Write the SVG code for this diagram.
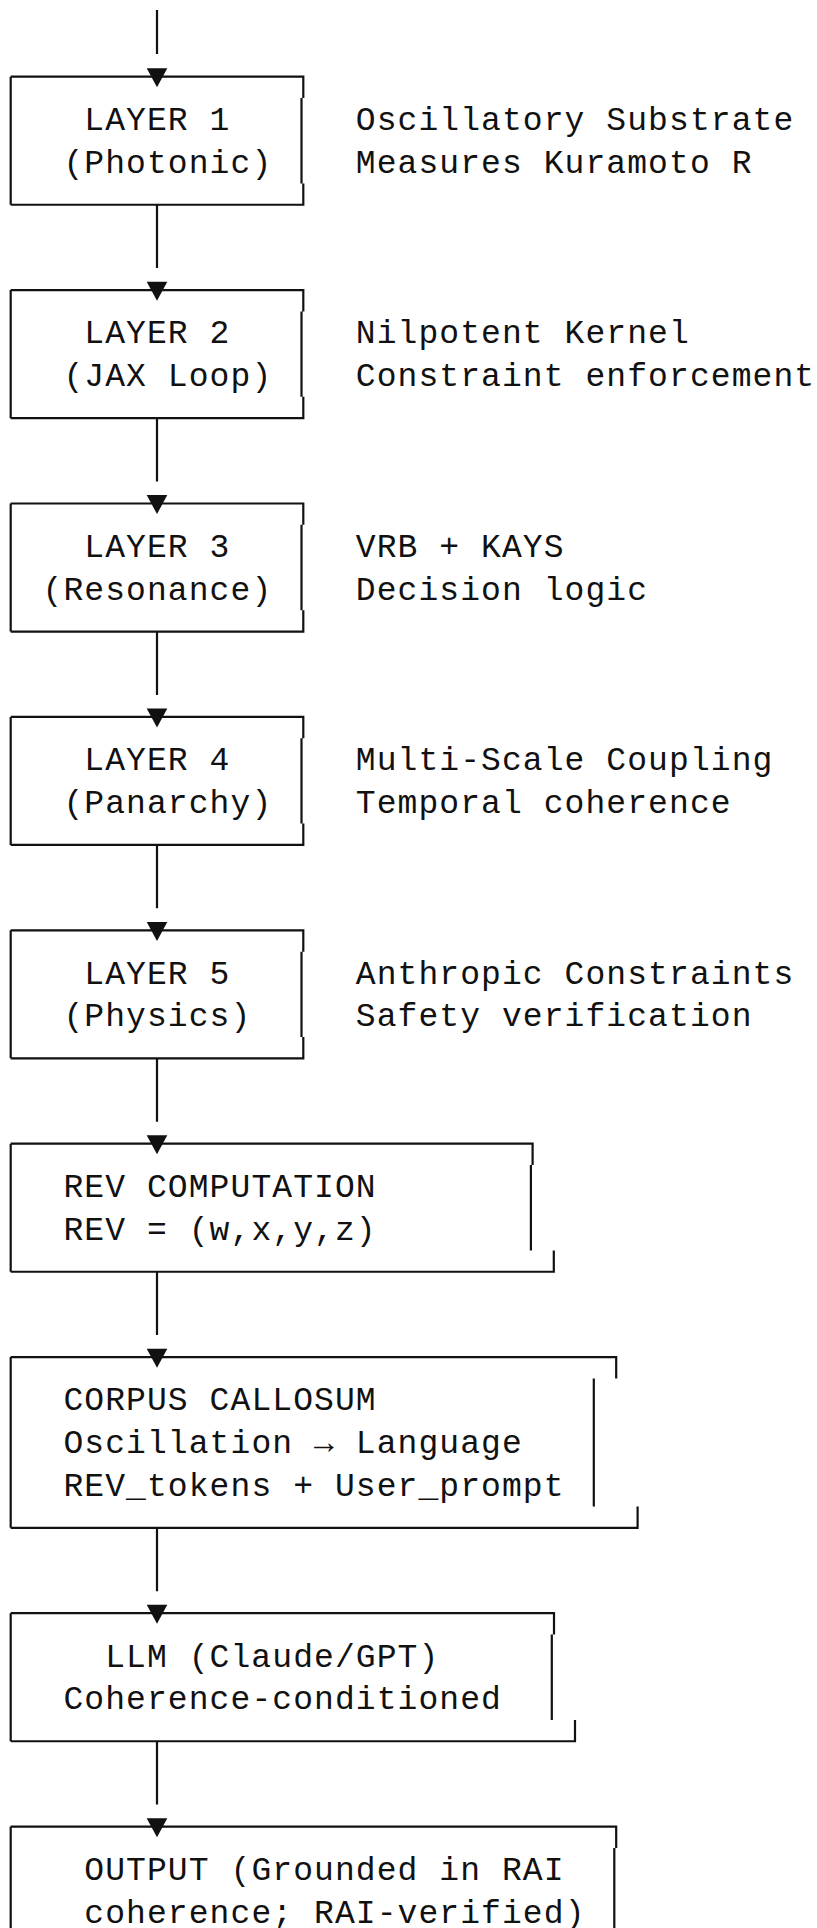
<svg xmlns="http://www.w3.org/2000/svg" xmlns:xlink="http://www.w3.org/1999/xlink" width="817" height="1928" viewBox="0 0 817 1928">
<defs>
<style>
.t{font-family:"Liberation Mono","DejaVu Sans Mono",monospace;font-size:33px;letter-spacing:1.08px;fill:#111}
.ln{fill:none;stroke:#111;stroke-width:2.2;stroke-linecap:butt;stroke-linejoin:miter}
.ar{fill:#111}
</style>
<path id="arr" d="M-10.3,-8.4 H10.3 L0,10.6 Z"/>
</defs>
<rect width="817" height="1928" fill="#fff"/>

<g id="connectors">
<path class="ln" d="M157,10 V54 M157,204.76 V268.1 M157,418.16 V481.5 M157,631.56 V694.9 M157,844.96 V908.3 M157,1058.36 V1121.7 M157,1271.76 V1335.1 M157,1527.84 V1591.2 M157,1741.24 V1804.6"/>
<use xlink:href="#arr" href="#arr" class="ar" x="157" y="76.72"/>
<use xlink:href="#arr" href="#arr" class="ar" x="157" y="290.12"/>
<use xlink:href="#arr" href="#arr" class="ar" x="157" y="503.52"/>
<use xlink:href="#arr" href="#arr" class="ar" x="157" y="716.92"/>
<use xlink:href="#arr" href="#arr" class="ar" x="157" y="930.32"/>
<use xlink:href="#arr" href="#arr" class="ar" x="157" y="1143.72"/>
<use xlink:href="#arr" href="#arr" class="ar" x="157" y="1357.12"/>
<use xlink:href="#arr" href="#arr" class="ar" x="157" y="1613.2"/>
<use xlink:href="#arr" href="#arr" class="ar" x="157" y="1826.6"/>
</g>

<g id="layer1">
<path class="ln" d="M10.7,76.72 V204.76 M10.7,76.72 H303.3 V98.06 M301.5,98.06 V183.42 M10.7,204.76 H303.3 V183.42"/>
<text class="t" x="84.32" y="130.06">LAYER 1</text>
<text class="t" x="63.44" y="172.74">(Photonic)</text>
<text class="t" x="355.76" y="130.06">Oscillatory Substrate</text>
<text class="t" x="355.76" y="172.74">Measures Kuramoto R</text>
</g>

<g id="layer2">
<path class="ln" d="M10.7,290.12 V418.16 M10.7,290.12 H303.3 V311.46 M301.5,311.46 V396.82 M10.7,418.16 H303.3 V396.82"/>
<text class="t" x="84.32" y="343.46">LAYER 2</text>
<text class="t" x="63.44" y="386.14">(JAX Loop)</text>
<text class="t" x="355.76" y="343.46">Nilpotent Kernel</text>
<text class="t" x="355.76" y="386.14">Constraint enforcement</text>
</g>

<g id="layer3">
<path class="ln" d="M10.7,503.52 V631.56 M10.7,503.52 H303.3 V524.86 M301.5,524.86 V610.22 M10.7,631.56 H303.3 V610.22"/>
<text class="t" x="84.32" y="556.86">LAYER 3</text>
<text class="t" x="42.56" y="599.54">(Resonance)</text>
<text class="t" x="355.76" y="556.86">VRB + KAYS</text>
<text class="t" x="355.76" y="599.54">Decision logic</text>
</g>

<g id="layer4">
<path class="ln" d="M10.7,716.92 V844.96 M10.7,716.92 H303.3 V738.26 M301.5,738.26 V823.62 M10.7,844.96 H303.3 V823.62"/>
<text class="t" x="84.32" y="770.26">LAYER 4</text>
<text class="t" x="63.44" y="812.94">(Panarchy)</text>
<text class="t" x="355.76" y="770.26">Multi-Scale Coupling</text>
<text class="t" x="355.76" y="812.94">Temporal coherence</text>
</g>

<g id="layer5">
<path class="ln" d="M10.7,930.32 V1058.36 M10.7,930.32 H303.3 V951.66 M301.5,951.66 V1037.02 M10.7,1058.36 H303.3 V1037.02"/>
<text class="t" x="84.32" y="983.66">LAYER 5</text>
<text class="t" x="63.44" y="1026.34">(Physics)</text>
<text class="t" x="355.76" y="983.66">Anthropic Constraints</text>
<text class="t" x="355.76" y="1026.34">Safety verification</text>
</g>

<g id="rev">
<path class="ln" d="M10.7,1143.72 V1271.76 M10.7,1143.72 H532.6 V1165.06 M530.9,1165.06 V1250.42 M10.7,1271.76 H553.8 V1250.42"/>
<text class="t" x="63.44" y="1197.06">REV COMPUTATION</text>
<text class="t" x="63.44" y="1239.74">REV = (w,x,y,z)</text>
</g>

<g id="corpus">
<path class="ln" d="M10.7,1357.12 V1527.84 M10.7,1357.12 H616.2 V1378.46 M593.8,1378.46 V1506.5 M10.7,1527.84 H637.6 V1506.5"/>
<text class="t" x="63.44" y="1410.46">CORPUS CALLOSUM</text>
<text class="t" x="63.44" y="1453.14">Oscillation → Language</text>
<text class="t" x="63.44" y="1495.82">REV_tokens + User_prompt</text>
</g>

<g id="llm">
<path class="ln" d="M10.7,1613.2 V1741.24 M10.7,1613.2 H554 V1634.54 M551.8,1634.54 V1719.9 M10.7,1741.24 H575 V1719.9"/>
<text class="t" x="105.2" y="1666.54">LLM (Claude/GPT)</text>
<text class="t" x="63.44" y="1709.22">Coherence-conditioned</text>
</g>

<g id="output">
<path class="ln" d="M10.7,1826.6 V1928 M10.7,1826.6 H616.2 V1847.94 M614.3,1847.94 V1928"/>
<text class="t" x="84.32" y="1879.94">OUTPUT (Grounded in RAI</text>
<text class="t" x="84.32" y="1922.62">coherence; RAI-verified)</text>
</g>
</svg>
